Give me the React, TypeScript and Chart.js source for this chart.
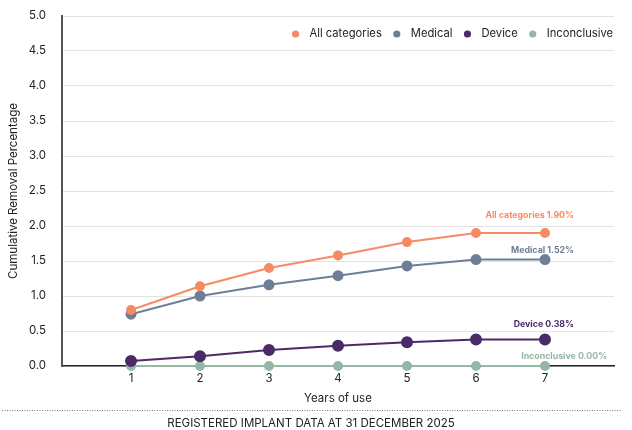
import React, { useEffect, useRef } from "react";
import { Chart, registerables } from "chart.js";

Chart.register(...registerables);

const years = [1, 2, 3, 4, 5, 6, 7];
const allCategories = [0.8, 1.14, 1.4, 1.58, 1.77, 1.9, 1.9];
const medical = [0.74, 1.0, 1.16, 1.29, 1.43, 1.52, 1.52];
const device = [0.07, 0.14, 0.23, 0.29, 0.34, 0.38, 0.38];
const inconclusive = [0, 0, 0, 0, 0, 0, 0];
const seriesNames = ["All categories", "Medical", "Device", "Inconclusive"];
const endLabels = ["All categories 1.90%", "Medical 1.52%", "Device 0.38%", "Inconclusive 0.00%"];
const colors = ["#F68B63", "#6F7E97", "#4A2B68", "#94B7A6"];
const yTicks = [0, 0.5, 1, 1.5, 2, 2.5, 3, 3.5, 4, 4.5, 5];
const footer = "REGISTERED IMPLANT DATA AT 31 DECEMBER 2025";

const FONT = "Inter, 'Noto Sans', sans-serif";

export default function App() {
  const ref = useRef<HTMLCanvasElement>(null);
  useEffect(() => {
    const canvas = ref.current!;
    const mk = (i: number, data: number[], r: number) => ({
      label: seriesNames[i],
      data: years.map((x, k) => ({ x, y: data[k] })),
      borderColor: colors[i],
      backgroundColor: colors[i],
      pointBackgroundColor: colors[i],
      pointBorderColor: colors[i],
      pointRadius: r,
      borderWidth: 2,
      clip: false as any,
    });
    const overlay = {
      id: "overlay",
      afterDatasetsDraw(chart: any) {
        const { ctx, chartArea, scales } = chart;
        ctx.save();
        // legend
        ctx.font = `11.2px ${FONT}`;
        ctx.textBaseline = "middle";
        let x = chartArea.right - 1;
        const ly = 34;
        for (let i = seriesNames.length - 1; i >= 0; i--) {
          const w = ctx.measureText(seriesNames[i]).width;
          ctx.fillStyle = "#222";
          ctx.textAlign = "left";
          ctx.fillText(seriesNames[i], x - w, ly);
          const cx = x - w - 14;
          ctx.beginPath();
          ctx.arc(cx, ly, 3.6, 0, Math.PI * 2);
          ctx.fillStyle = colors[i];
          ctx.fill();
          x = cx - 15;
        }
        // end labels
        ctx.font = `bold 8.8px ${FONT}`;
        ctx.textAlign = "right";
        ctx.textBaseline = "middle";
        const lastVals = [allCategories[6], medical[6], device[6], inconclusive[6]];
        const offsets = [18, 9.5, 15, 10];
        lastVals.forEach((v, i) => {
          const px = i === 3 ? scales.x.getPixelForValue(7.9) : scales.x.getPixelForValue(7.42);
          const py = scales.y.getPixelForValue(v) - offsets[i];
          ctx.fillStyle = colors[i];
          ctx.fillText(endLabels[i], px, py);
        });
        ctx.restore();
      },
      afterDraw(chart: any) {
        const { ctx } = chart;
        ctx.save();
        ctx.strokeStyle = "#777";
        ctx.lineWidth = 1;
        ctx.setLineDash([1, 1.5]);
        ctx.beginPath();
        ctx.moveTo(2, 410.5);
        ctx.lineTo(622, 410.5);
        ctx.stroke();
        ctx.setLineDash([]);
        ctx.fillStyle = "#222";
        ctx.font = `11.5px ${FONT}`;
        ctx.textAlign = "center";
        ctx.textBaseline = "middle";
        ctx.fillText(footer, 311, 424);
        ctx.restore();
      },
    };
    const chart = new Chart(canvas, {
      type: "line",
      data: {
        datasets: [
          mk(0, allCategories, 4),
          mk(1, medical, 4.5),
          mk(2, device, 5),
          mk(3, inconclusive, 4),
        ],
      },
      options: {
        animation: false,
        responsive: false,
        maintainAspectRatio: false,
        layout: { padding: { top: 16, right: 18, bottom: 25, left: 0 } },
        plugins: { legend: { display: false }, tooltip: { enabled: false } },
        scales: {
          x: {
            type: "linear",
            min: 0,
            max: 8,
            afterFit: (s: any) => { s.height = 39; s.paddingLeft = 0; s.paddingRight = 0; },
            afterBuildTicks: (s: any) => { s.ticks = years.map((v) => ({ value: v })); },
            ticks: { color: "#222", font: { family: FONT, size: 11.5 }, padding: 6 },
            grid: { display: false, drawTicks: false },
            border: { color: "#222", width: 1.5 },
            title: { display: true, text: "Years of use", color: "#222", font: { family: FONT, size: 11.5 }, padding: { top: 4, bottom: 0 } },
          },
          y: {
            min: 0,
            max: 5,
            afterFit: (s: any) => { s.width = 62; s.paddingTop = 0; s.paddingBottom = 0; },
            afterBuildTicks: (s: any) => { s.ticks = yTicks.map((v) => ({ value: v })); },
            ticks: { color: "#222", font: { family: FONT, size: 11.5 }, padding: 16, callback: (v: any) => Number(v).toFixed(1) },
            grid: { color: "#e2e2e2", lineWidth: 1, drawTicks: false },
            border: { color: "#555", width: 2 },
            title: { display: true, text: "Cumulative Removal Percentage", color: "#222", font: { family: FONT, size: 11.5 }, padding: { top: 7, bottom: 0 } },
          },
        },
      },
      plugins: [overlay],
    } as any);
    return () => chart.destroy();
  }, []);
  return (
    <div style={{ position: "absolute", left: 0, top: 0, width: 632, height: 430, background: "#fff" }}>
      <canvas ref={ref} width={632} height={430} style={{ width: 632, height: 430, display: "block" }} />
    </div>
  );
}
